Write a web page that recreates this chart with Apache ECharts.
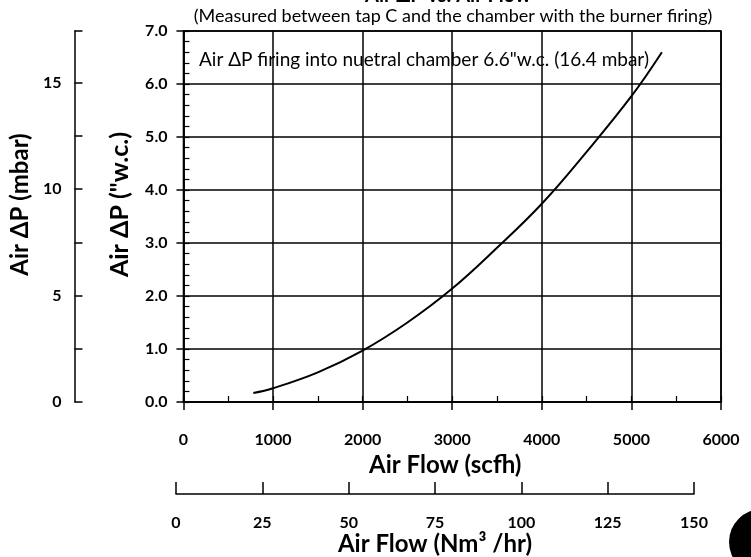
<!DOCTYPE html>
<html><head><meta charset="utf-8">
<script src="https://cdn.jsdelivr.net/npm/echarts@6/dist/echarts.min.js"></script>
<style>html,body{margin:0;padding:0;background:#fff}#c{width:751px;height:557px}</style>
</head><body><div id="c"></div>
<script>
// Data
const flowScfh = [780, 1000, 1500, 2000, 2500, 3000, 3500, 4000, 4500, 5000, 5340];
const dpInWc   = [0.17, 0.26, 0.56, 0.97, 1.50, 2.14, 2.91, 3.74, 4.72, 5.77, 6.60];
const titleText = 'Air ΔP vs. Air Flow';
const subtitleText = '(Measured between tap C and the chamber with the burner firing)';
const noteText = 'Air ΔP firing into nuetral chamber 6.6"w.c. (16.4 mbar)';
const mbarPerInWc = 2.4884;

const FONT = 'Lato, "Open Sans", sans-serif';
const chart = echarts.init(document.getElementById('c'));
const black = '#000';
const nameStyle = {fontFamily: FONT, fontSize: 24, fontWeight: 'bold', color: black};
const tickFont = {fontFamily: FONT, fontSize: 16, fontWeight: 'bold', color: black};
chart.setOption({
  animation: false,
  backgroundColor: '#fff',
  textStyle: {fontFamily: FONT, color: black},
  title: [
    {text: titleText, left: 448, textAlign: 'center', top: -14, padding: 0, textStyle: {fontFamily: FONT, fontSize: 20, fontWeight: 'bold', color: black}},
    {text: subtitleText, left: 453, textAlign: 'center', top: 7, padding: 0, textStyle: {fontFamily: FONT, fontSize: 18, fontWeight: 'normal', color: black}},
    {text: noteText, left: 199, top: 50, padding: 0, textStyle: {fontFamily: FONT, fontSize: 19, fontWeight: 'normal', color: black}}
  ],
  grid: [
    {left: 182, top: 31, width: 539, height: 371, show: true, borderColor: black, borderWidth: 1.5, backgroundColor: 'transparent'},
    {left: 176, top: 489, width: 518, height: 10}
  ],
  xAxis: [
    {gridIndex: 0, type: 'value', min: 0, max: 6000, interval: 1000,
     name: 'Air Flow (scfh)', nameLocation: 'middle', nameGap: 42,
     nameTextStyle: Object.assign({}, nameStyle, {padding: [0, 14, 0, 0]}),
     axisLine: {show: true, lineStyle: {color: black, width: 1.5}},
     axisTick: {show: true, inside: false, length: 8, lineStyle: {color: black, width: 1.5}},
     axisLabel: Object.assign({margin: 30, formatter: v => String(v)}, tickFont),
     splitLine: {show: true, lineStyle: {color: black, width: 1.5}}},
    {gridIndex: 0, type: 'value', min: 0, max: 6000, interval: 500, position: 'bottom',
     axisLine: {show: false}, axisLabel: {show: false}, splitLine: {show: false},
     axisTick: {show: true, inside: true, length: 6, lineStyle: {color: black, width: 1.2}}},
    {gridIndex: 1, type: 'value', min: 0, max: 150, interval: 25, position: 'bottom',
     name: 'Air Flow (Nm³ /hr)', nameLocation: 'middle', nameGap: 32,
     nameTextStyle: nameStyle,
     axisLine: {show: true, lineStyle: {color: black, width: 1.5}},
     axisTick: {show: true, inside: true, length: 12, lineStyle: {color: black, width: 1.5}},
     axisLabel: Object.assign({margin: 21}, tickFont),
     splitLine: {show: false}}
  ],
  yAxis: [
    {gridIndex: 0, type: 'value', min: 0, max: 7, interval: 1,
     name: 'Air ΔP ("w.c.)', nameLocation: 'middle', nameGap: 51, nameRotate: 90,
     nameTextStyle: Object.assign({}, nameStyle, {fontSize: 25, padding: [0, 0, 0, 24]}),
     axisLine: {show: true, lineStyle: {color: black, width: 1.5}},
     axisTick: {show: true, inside: false, length: 7, lineStyle: {color: black, width: 1.5}},
     axisLabel: Object.assign({margin: 16, formatter: v => v.toFixed(1)}, tickFont),
     splitLine: {show: true, lineStyle: {color: black, width: 1.5}}},
    {gridIndex: 0, type: 'value', min: 0, max: 7, interval: 0.2, position: 'left',
     axisLine: {show: false}, axisLabel: {show: false}, splitLine: {show: false},
     axisTick: {show: true, inside: true, length: 6, lineStyle: {color: black, width: 1.2}}},
    {gridIndex: 0, type: 'value', min: 0, max: 7 * mbarPerInWc, interval: 2.5, position: 'left', offset: 109,
     name: 'Air ΔP (mbar)', nameLocation: 'middle', nameGap: 36, nameRotate: 90,
     nameTextStyle: Object.assign({}, nameStyle, {padding: [0, 0, 0, 24]}),
     axisLine: {show: true, lineStyle: {color: black, width: 1.5}},
     axisTick: {show: true, inside: true, length: 8, lineStyle: {color: black, width: 1.5}},
     axisLabel: Object.assign({margin: 13, formatter: v => (Math.abs(v % 5) < 1e-9 ? String(v) : '')}, tickFont),
     splitLine: {show: false}},
    {gridIndex: 1, type: 'value', show: false, min: 0, max: 1}
  ],
  series: [{
    type: 'line', xAxisIndex: 0, yAxisIndex: 0, smooth: 0.4, showSymbol: false,
    lineStyle: {color: black, width: 2},
    data: flowScfh.map((x, i) => [x, dpInWc[i]])
  }],
  graphic: [{type: 'circle', shape: {cx: 762, cy: 542, r: 33}, style: {fill: black}, silent: true}]
});
</script></body></html>
